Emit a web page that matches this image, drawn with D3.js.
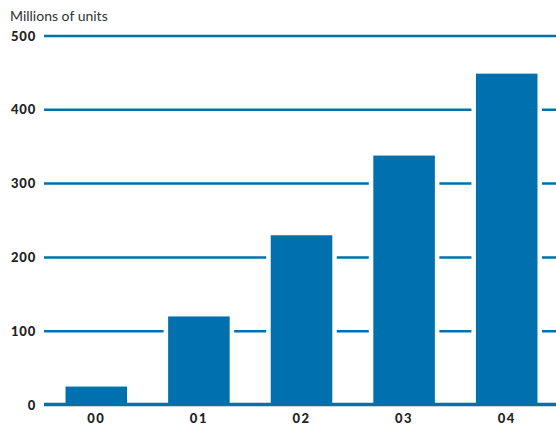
<!doctype html>
<html lang="en">
  <head>
    <meta charset="utf-8">
    <title>Millions of units</title>
    <script src="https://d3js.org/d3.v7.min.js"></script>
    <style>
      body { margin: 0; background: #fff; }
      text { font-family: Lato, "Open Sans", sans-serif; }
    </style>
  </head>
  <body>
    <div id="my_dataviz"></div>

    <script>
      // data
      var years = ["00", "01", "02", "03", "04"];
      var units = [25, 120, 230, 338, 449];
      var yTicks = [0, 100, 200, 300, 400, 500];

      var blue = "#0071ae";
      var width = 556, height = 427;

      var svg = d3.select("#my_dataviz")
        .append("svg")
          .attr("width", width)
          .attr("height", height);

      // x axis bands
      var x = d3.scaleBand()
        .domain(years)
        .range([45, 558])
        .paddingInner(0.4)
        .paddingOuter(0.2);

      // y axis
      var y = d3.scaleLinear()
        .domain([0, 500])
        .range([405, 36]);

      // title
      svg.append("text")
        .attr("x", 10)
        .attr("y", 21)
        .attr("font-size", 14)
        .attr("fill", "#333")
        .text("Millions of units");

      // gridlines
      svg.append("g")
        .selectAll("line")
        .data(yTicks.filter(function(d) { return d > 0; }))
        .join("line")
          .attr("x1", 44)
          .attr("x2", width)
          .attr("y1", function(d) { return y(d); })
          .attr("y2", function(d) { return y(d); })
          .attr("stroke", blue)
          .attr("stroke-width", 2.5);

      // bars, white outline cuts the gridlines
      svg.append("g")
        .selectAll("rect")
        .data(units)
        .join("rect")
          .attr("x", function(d, i) { return x(years[i]); })
          .attr("width", x.bandwidth())
          .attr("y", function(d) { return y(d); })
          .attr("height", function(d) { return y(0) - 2 - y(d); })
          .attr("fill", blue)
          .attr("stroke", "#fff")
          .attr("stroke-width", 9)
          .attr("paint-order", "stroke");

      // baseline
      svg.append("line")
        .attr("x1", 44)
        .attr("x2", width)
        .attr("y1", y(0) - 0.5)
        .attr("y2", y(0) - 0.5)
        .attr("stroke", blue)
        .attr("stroke-width", 3.5);

      // y tick labels
      svg.append("g")
        .selectAll("text")
        .data(yTicks)
        .join("text")
          .attr("x", 36)
          .attr("y", function(d) { return y(d); })
          .attr("dy", "0.35em")
          .attr("text-anchor", "end")
          .attr("font-size", 13)
          .attr("font-weight", 900)
          .attr("letter-spacing", 0.8)
          .attr("fill", "#222")
          .text(function(d) { return d; });

      // x tick labels
      svg.append("g")
        .selectAll("text")
        .data(years)
        .join("text")
          .attr("x", function(d) { return x(d) + x.bandwidth() / 2; })
          .attr("y", 427 - 4)
          .attr("text-anchor", "middle")
          .attr("font-size", 13)
          .attr("font-weight", 900)
          .attr("letter-spacing", 1.5)
          .attr("fill", "#222")
          .text(function(d) { return d; });
    </script>
  </body>
</html>
